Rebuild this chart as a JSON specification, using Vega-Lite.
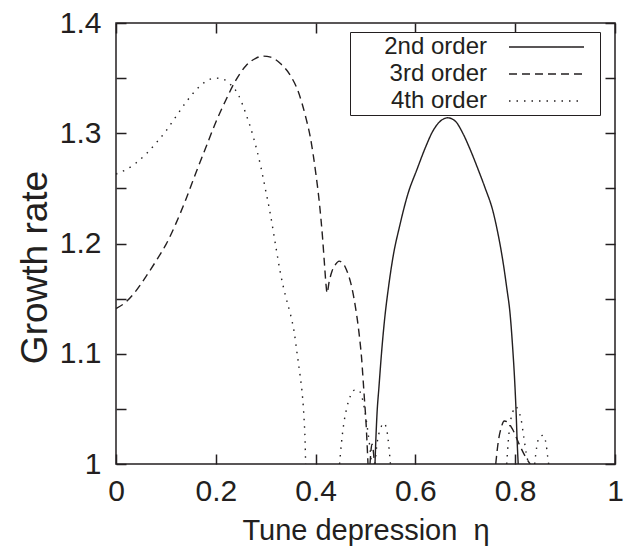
{
  "$schema": "https://vega.github.io/schema/vega-lite/v6.json",
  "width": 499,
  "height": 441,
  "autosize": {"type": "none"},
  "padding": {"left": 116, "top": 23, "right": 17, "bottom": 82},
  "background": "white",
  "config": {
    "view": {"stroke": "#231f20", "strokeWidth": 1.5},
    "font": "Liberation Sans",
    "axis": {
      "domain": false,
      "grid": false,
      "tickColor": "#231f20",
      "tickWidth": 1.5,
      "tickSize": -10,
      "labelColor": "#231f20",
      "labelFont": "Liberation Sans",
      "labelFontSize": 30,
      "titleFont": "Liberation Sans",
      "titleFontSize": 29,
      "titleFontWeight": "normal",
      "titleColor": "#231f20",
      "labelFlush": false,
      "labelOverlap": false
    }
  },
  "data": {
    "values": [
      {"order": "2nd order", "seg": "a", "eta": 0.519, "g": 1.0},
      {"order": "2nd order", "seg": "a", "eta": 0.521, "g": 1.025},
      {"order": "2nd order", "seg": "a", "eta": 0.523, "g": 1.045},
      {"order": "2nd order", "seg": "a", "eta": 0.527, "g": 1.07},
      {"order": "2nd order", "seg": "a", "eta": 0.532, "g": 1.1},
      {"order": "2nd order", "seg": "a", "eta": 0.538, "g": 1.13},
      {"order": "2nd order", "seg": "a", "eta": 0.546, "g": 1.16},
      {"order": "2nd order", "seg": "a", "eta": 0.556, "g": 1.19},
      {"order": "2nd order", "seg": "a", "eta": 0.568, "g": 1.215},
      {"order": "2nd order", "seg": "a", "eta": 0.585, "g": 1.245},
      {"order": "2nd order", "seg": "a", "eta": 0.603, "g": 1.267},
      {"order": "2nd order", "seg": "a", "eta": 0.62, "g": 1.287},
      {"order": "2nd order", "seg": "a", "eta": 0.635, "g": 1.302},
      {"order": "2nd order", "seg": "a", "eta": 0.65, "g": 1.311},
      {"order": "2nd order", "seg": "a", "eta": 0.665, "g": 1.314},
      {"order": "2nd order", "seg": "a", "eta": 0.68, "g": 1.311},
      {"order": "2nd order", "seg": "a", "eta": 0.695, "g": 1.3},
      {"order": "2nd order", "seg": "a", "eta": 0.71, "g": 1.285},
      {"order": "2nd order", "seg": "a", "eta": 0.725, "g": 1.268},
      {"order": "2nd order", "seg": "a", "eta": 0.74, "g": 1.25},
      {"order": "2nd order", "seg": "a", "eta": 0.755, "g": 1.23},
      {"order": "2nd order", "seg": "a", "eta": 0.765, "g": 1.21},
      {"order": "2nd order", "seg": "a", "eta": 0.775, "g": 1.185},
      {"order": "2nd order", "seg": "a", "eta": 0.783, "g": 1.16},
      {"order": "2nd order", "seg": "a", "eta": 0.79, "g": 1.135},
      {"order": "2nd order", "seg": "a", "eta": 0.795, "g": 1.105},
      {"order": "2nd order", "seg": "a", "eta": 0.799, "g": 1.075},
      {"order": "2nd order", "seg": "a", "eta": 0.802, "g": 1.045},
      {"order": "2nd order", "seg": "a", "eta": 0.804, "g": 1.02},
      {"order": "2nd order", "seg": "a", "eta": 0.806, "g": 1.0},

      {"order": "3rd order", "seg": "a", "eta": 0.0, "g": 1.141},
      {"order": "3rd order", "seg": "a", "eta": 0.02, "g": 1.147},
      {"order": "3rd order", "seg": "a", "eta": 0.04, "g": 1.157},
      {"order": "3rd order", "seg": "a", "eta": 0.06, "g": 1.17},
      {"order": "3rd order", "seg": "a", "eta": 0.08, "g": 1.184},
      {"order": "3rd order", "seg": "a", "eta": 0.1, "g": 1.199},
      {"order": "3rd order", "seg": "a", "eta": 0.12, "g": 1.218},
      {"order": "3rd order", "seg": "a", "eta": 0.14, "g": 1.24},
      {"order": "3rd order", "seg": "a", "eta": 0.16, "g": 1.264},
      {"order": "3rd order", "seg": "a", "eta": 0.18, "g": 1.287},
      {"order": "3rd order", "seg": "a", "eta": 0.2, "g": 1.31},
      {"order": "3rd order", "seg": "a", "eta": 0.22, "g": 1.33},
      {"order": "3rd order", "seg": "a", "eta": 0.24, "g": 1.348},
      {"order": "3rd order", "seg": "a", "eta": 0.26, "g": 1.361},
      {"order": "3rd order", "seg": "a", "eta": 0.28, "g": 1.368},
      {"order": "3rd order", "seg": "a", "eta": 0.295, "g": 1.37},
      {"order": "3rd order", "seg": "a", "eta": 0.31, "g": 1.369},
      {"order": "3rd order", "seg": "a", "eta": 0.33, "g": 1.363},
      {"order": "3rd order", "seg": "a", "eta": 0.35, "g": 1.352},
      {"order": "3rd order", "seg": "a", "eta": 0.365, "g": 1.338},
      {"order": "3rd order", "seg": "a", "eta": 0.38, "g": 1.315},
      {"order": "3rd order", "seg": "a", "eta": 0.39, "g": 1.295},
      {"order": "3rd order", "seg": "a", "eta": 0.4, "g": 1.265},
      {"order": "3rd order", "seg": "a", "eta": 0.408, "g": 1.235},
      {"order": "3rd order", "seg": "a", "eta": 0.414, "g": 1.205},
      {"order": "3rd order", "seg": "a", "eta": 0.418, "g": 1.18},
      {"order": "3rd order", "seg": "a", "eta": 0.421, "g": 1.162},
      {"order": "3rd order", "seg": "a", "eta": 0.423, "g": 1.155},
      {"order": "3rd order", "seg": "a", "eta": 0.427, "g": 1.165},
      {"order": "3rd order", "seg": "a", "eta": 0.433, "g": 1.175},
      {"order": "3rd order", "seg": "a", "eta": 0.44, "g": 1.181},
      {"order": "3rd order", "seg": "a", "eta": 0.447, "g": 1.184},
      {"order": "3rd order", "seg": "a", "eta": 0.455, "g": 1.182},
      {"order": "3rd order", "seg": "a", "eta": 0.462, "g": 1.176},
      {"order": "3rd order", "seg": "a", "eta": 0.47, "g": 1.165},
      {"order": "3rd order", "seg": "a", "eta": 0.477, "g": 1.15},
      {"order": "3rd order", "seg": "a", "eta": 0.483, "g": 1.133},
      {"order": "3rd order", "seg": "a", "eta": 0.488, "g": 1.115},
      {"order": "3rd order", "seg": "a", "eta": 0.492, "g": 1.097},
      {"order": "3rd order", "seg": "a", "eta": 0.495, "g": 1.078},
      {"order": "3rd order", "seg": "a", "eta": 0.498, "g": 1.058},
      {"order": "3rd order", "seg": "a", "eta": 0.501, "g": 1.038},
      {"order": "3rd order", "seg": "a", "eta": 0.503, "g": 1.02},
      {"order": "3rd order", "seg": "a", "eta": 0.505, "g": 1.0},
      {"order": "3rd order", "seg": "b", "eta": 0.509, "g": 1.0},
      {"order": "3rd order", "seg": "b", "eta": 0.513, "g": 1.018},
      {"order": "3rd order", "seg": "b", "eta": 0.518, "g": 1.0},
      {"order": "3rd order", "seg": "c", "eta": 0.761, "g": 1.0},
      {"order": "3rd order", "seg": "c", "eta": 0.766, "g": 1.02},
      {"order": "3rd order", "seg": "c", "eta": 0.772, "g": 1.033},
      {"order": "3rd order", "seg": "c", "eta": 0.778, "g": 1.039},
      {"order": "3rd order", "seg": "c", "eta": 0.785, "g": 1.038},
      {"order": "3rd order", "seg": "c", "eta": 0.794, "g": 1.032},
      {"order": "3rd order", "seg": "c", "eta": 0.81, "g": 1.016},
      {"order": "3rd order", "seg": "c", "eta": 0.82, "g": 1.007},
      {"order": "3rd order", "seg": "c", "eta": 0.83, "g": 1.0},

      {"order": "4th order", "seg": "a", "eta": 0.0, "g": 1.263},
      {"order": "4th order", "seg": "a", "eta": 0.02, "g": 1.267},
      {"order": "4th order", "seg": "a", "eta": 0.04, "g": 1.273},
      {"order": "4th order", "seg": "a", "eta": 0.06, "g": 1.281},
      {"order": "4th order", "seg": "a", "eta": 0.08, "g": 1.291},
      {"order": "4th order", "seg": "a", "eta": 0.1, "g": 1.302},
      {"order": "4th order", "seg": "a", "eta": 0.12, "g": 1.315},
      {"order": "4th order", "seg": "a", "eta": 0.14, "g": 1.328},
      {"order": "4th order", "seg": "a", "eta": 0.16, "g": 1.339},
      {"order": "4th order", "seg": "a", "eta": 0.18, "g": 1.347},
      {"order": "4th order", "seg": "a", "eta": 0.2, "g": 1.35},
      {"order": "4th order", "seg": "a", "eta": 0.215, "g": 1.349},
      {"order": "4th order", "seg": "a", "eta": 0.23, "g": 1.344},
      {"order": "4th order", "seg": "a", "eta": 0.245, "g": 1.335},
      {"order": "4th order", "seg": "a", "eta": 0.26, "g": 1.318},
      {"order": "4th order", "seg": "a", "eta": 0.275, "g": 1.297},
      {"order": "4th order", "seg": "a", "eta": 0.29, "g": 1.27},
      {"order": "4th order", "seg": "a", "eta": 0.3, "g": 1.248},
      {"order": "4th order", "seg": "a", "eta": 0.31, "g": 1.225},
      {"order": "4th order", "seg": "a", "eta": 0.32, "g": 1.198},
      {"order": "4th order", "seg": "a", "eta": 0.33, "g": 1.172},
      {"order": "4th order", "seg": "a", "eta": 0.34, "g": 1.152},
      {"order": "4th order", "seg": "a", "eta": 0.35, "g": 1.135},
      {"order": "4th order", "seg": "a", "eta": 0.357, "g": 1.12},
      {"order": "4th order", "seg": "a", "eta": 0.363, "g": 1.1},
      {"order": "4th order", "seg": "a", "eta": 0.369, "g": 1.08},
      {"order": "4th order", "seg": "a", "eta": 0.374, "g": 1.06},
      {"order": "4th order", "seg": "a", "eta": 0.377, "g": 1.04},
      {"order": "4th order", "seg": "a", "eta": 0.379, "g": 1.02},
      {"order": "4th order", "seg": "a", "eta": 0.38, "g": 1.0},
      {"order": "4th order", "seg": "b", "eta": 0.448, "g": 1.0},
      {"order": "4th order", "seg": "b", "eta": 0.452, "g": 1.02},
      {"order": "4th order", "seg": "b", "eta": 0.456, "g": 1.035},
      {"order": "4th order", "seg": "b", "eta": 0.462, "g": 1.05},
      {"order": "4th order", "seg": "b", "eta": 0.47, "g": 1.062},
      {"order": "4th order", "seg": "b", "eta": 0.478, "g": 1.067},
      {"order": "4th order", "seg": "b", "eta": 0.486, "g": 1.067},
      {"order": "4th order", "seg": "b", "eta": 0.492, "g": 1.062},
      {"order": "4th order", "seg": "b", "eta": 0.498, "g": 1.05},
      {"order": "4th order", "seg": "b", "eta": 0.503, "g": 1.035},
      {"order": "4th order", "seg": "b", "eta": 0.508, "g": 1.018},
      {"order": "4th order", "seg": "b", "eta": 0.512, "g": 1.0},
      {"order": "4th order", "seg": "c", "eta": 0.519, "g": 1.0},
      {"order": "4th order", "seg": "c", "eta": 0.523, "g": 1.018},
      {"order": "4th order", "seg": "c", "eta": 0.53, "g": 1.032},
      {"order": "4th order", "seg": "c", "eta": 0.537, "g": 1.037},
      {"order": "4th order", "seg": "c", "eta": 0.543, "g": 1.03},
      {"order": "4th order", "seg": "c", "eta": 0.547, "g": 1.015},
      {"order": "4th order", "seg": "c", "eta": 0.55, "g": 1.0},
      {"order": "4th order", "seg": "d", "eta": 0.783, "g": 1.0},
      {"order": "4th order", "seg": "d", "eta": 0.786, "g": 1.02},
      {"order": "4th order", "seg": "d", "eta": 0.79, "g": 1.037},
      {"order": "4th order", "seg": "d", "eta": 0.795, "g": 1.047},
      {"order": "4th order", "seg": "d", "eta": 0.8, "g": 1.052},
      {"order": "4th order", "seg": "d", "eta": 0.806, "g": 1.049},
      {"order": "4th order", "seg": "d", "eta": 0.812, "g": 1.04},
      {"order": "4th order", "seg": "d", "eta": 0.817, "g": 1.025},
      {"order": "4th order", "seg": "d", "eta": 0.822, "g": 1.01},
      {"order": "4th order", "seg": "d", "eta": 0.827, "g": 1.0},
      {"order": "4th order", "seg": "e", "eta": 0.839, "g": 1.0},
      {"order": "4th order", "seg": "e", "eta": 0.843, "g": 1.015},
      {"order": "4th order", "seg": "e", "eta": 0.849, "g": 1.025},
      {"order": "4th order", "seg": "e", "eta": 0.856, "g": 1.026},
      {"order": "4th order", "seg": "e", "eta": 0.862, "g": 1.018},
      {"order": "4th order", "seg": "e", "eta": 0.865, "g": 1.007},
      {"order": "4th order", "seg": "e", "eta": 0.867, "g": 1.0}
    ]
  },
  "layer": [
    {
      "transform": [{"filter": "datum.order == '2nd order'"}],
      "mark": {"type": "line", "clip": true, "color": "#231f20", "strokeWidth": 1.4, "interpolate": "monotone"},
      "encoding": {
        "x": {
          "field": "eta", "type": "quantitative",
          "scale": {"domain": [0, 1], "nice": false, "zero": false},
          "axis": {"orient": "bottom", "values": [0, 0.2, 0.4, 0.6, 0.8, 1], "format": "~g", "labelPadding": 22, "title": "Tune depression\u00a0\u00a0η", "titleBaseline": "alphabetic", "titleY": 75}
        },
        "y": {
          "field": "g", "type": "quantitative",
          "scale": {"domain": [1, 1.4], "nice": false, "zero": false},
          "axis": {"orient": "left", "values": [1, 1.05, 1.1, 1.15, 1.2, 1.25, 1.3, 1.35, 1.4], "labelExpr": "round(datum.value*20) % 2 == 0 ? format(datum.value, '.1~f') : ''", "labelPadding": 25, "title": "Growth rate", "titleFontSize": 37, "titleBaseline": "alphabetic", "titleX": -70, "titleY": 244}
        },
        "strokeDash": {
          "field": "order", "type": "nominal",
          "scale": {"domain": ["2nd order", "3rd order", "4th order"], "range": [[1, 0], [8, 5], [1.5, 6]]},
          "legend": {
            "orient": "none", "legendX": 234, "legendY": 9, "title": null,
            "symbolType": "M-3.125,0H3.125M4.05,0", "symbolSize": 576, "symbolStrokeWidth": 1.3,
            "symbolStrokeColor": "#231f20", "symbolFillColor": "transparent",
            "symbolOffset": 181.5, "labelOffset": -72.5, "labelAlign": "right",
            "rowPadding": 2,
            "labelFont": "Liberation Sans", "labelFontSize": 24, "labelColor": "#231f20",
            "strokeColor": "#231f20", "fillColor": "white", "padding": 2
          }
        },
        "detail": {"field": "seg"}
      }
    },
    {
      "transform": [{"filter": "datum.order != '2nd order'"}],
      "mark": {"type": "line", "clip": true, "color": "#231f20", "strokeWidth": 1.4, "interpolate": "monotone"},
      "encoding": {
        "x": {
          "field": "eta", "type": "quantitative",
          "scale": {"domain": [0, 1], "nice": false, "zero": false},
          "axis": {"orient": "top", "values": [0, 0.2, 0.4, 0.6, 0.8, 1], "labels": false, "title": null}
        },
        "y": {
          "field": "g", "type": "quantitative",
          "scale": {"domain": [1, 1.4], "nice": false, "zero": false},
          "axis": {"orient": "right", "values": [1, 1.05, 1.1, 1.15, 1.2, 1.25, 1.3, 1.35, 1.4], "labels": false, "title": null}
        },
        "strokeDash": {
          "field": "order", "type": "nominal",
          "scale": {"domain": ["2nd order", "3rd order", "4th order"], "range": [[1, 0], [8, 5], [1.5, 6]]}
        },
        "detail": {"field": "seg"}
      }
    }
  ],
  "resolve": {"axis": {"x": "independent", "y": "independent"}}
}
